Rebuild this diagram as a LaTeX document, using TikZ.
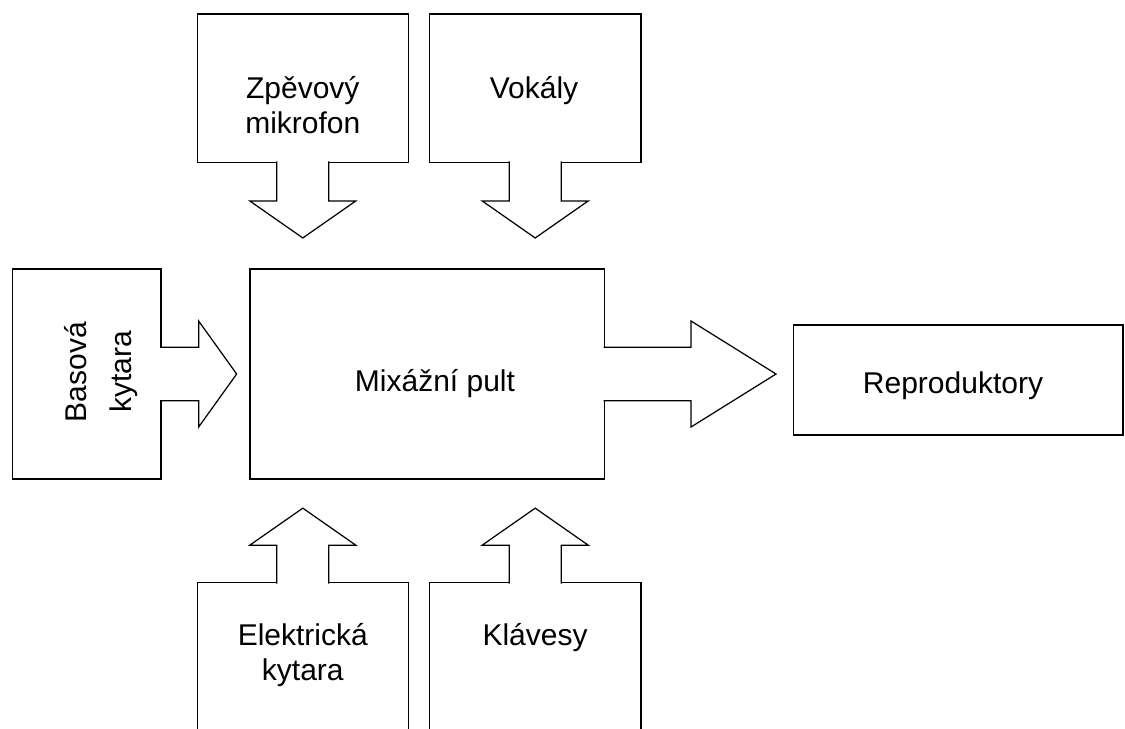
\documentclass[tikz,border=0pt]{standalone}
\usepackage{fontspec}
\setmainfont{Liberation Sans}

\tikzstyle{box} = [draw, rectangle, line width=0.7pt, inner sep=0pt]
\tikzstyle{txt} = [align=center, inner sep=0pt, font=\fontsize{17.07}{19.9}\selectfont]
\tikzstyle{blockarrow} = [draw, fill=white, line width=0.7pt, line join=miter]

\begin{document}
\begin{tikzpicture}[x=0.02cm, y=-0.02cm]
      \clip (0,0) rectangle (1125,728);
      % boxes
      \node[box, minimum width=4.22cm, minimum height=2.966cm] (mic) at (302.8,88.2) {};
      \node[box, minimum width=4.234cm, minimum height=2.966cm] (vok) at (535.2,88.2) {};
      \node[box, minimum width=2.974cm, minimum height=4.2cm] (bas) at (86.7,374) {};
      \node[box, minimum width=7.09cm, minimum height=4.2cm] (mix) at (427.2,374) {};
      \node[box, minimum width=6.594cm, minimum height=2.2cm] (rep) at (958.2,380) {};
      \node[box, minimum width=4.22cm, minimum height=2.966cm] (el) at (302.8,656.9) {};
      \node[box, minimum width=4.234cm, minimum height=2.966cm] (kla) at (535.2,656.9) {};
      % texts (base = last line)
      \node[txt, anchor=base] (mic-t) at (302.8,133) {Zpěvový\\mikrofon};
      \node[txt, anchor=base] (vok-t) at (534,98) {Vokály};
      \node[txt, anchor=base, rotate=90] (bas-t) at (131.7,372) {Basová\\[5.7pt]kytara};
      \node[txt, anchor=base] (mix-t) at (435,391.7) {Mixážní pult};
      \node[txt, anchor=base] (rep-t) at (953,393.3) {Reproduktory};
      \node[txt, anchor=base] (el-t) at (302.8,680) {Elektrická\\kytara};
      \node[txt, anchor=base] (kla-t) at (535,645) {Klávesy};
      % block arrows
      \draw[blockarrow, shift={(mic.south)}] (-26,-1.5) -- (-26,38) -- (-53,38) -- (0,75) -- (53,38) -- (26,38) -- (26,-1.5);
      \draw[blockarrow, shift={(vok.south)}] (-26,-1.5) -- (-26,38) -- (-53,38) -- (0,75) -- (53,38) -- (26,38) -- (26,-1.5);
      \draw[blockarrow, shift={(el.north)}] (-26,1.5) -- (-26,-37) -- (-53,-37) -- (0,-74) -- (53,-37) -- (26,-37) -- (26,1.5);
      \draw[blockarrow, shift={(kla.north)}] (-26,1.5) -- (-26,-37) -- (-53,-37) -- (0,-74) -- (53,-37) -- (26,-37) -- (26,1.5);
      \draw[blockarrow, shift={(bas.east)}] (-1.5,-26.7) -- (37,-26.7) -- (37,-53) -- (75,0) -- (37,53) -- (37,26.7) -- (-1.5,26.7);
      \draw[blockarrow, shift={(mix.east)}] (-1.5,-26.7) -- (86,-26.7) -- (86,-53) -- (171,0) -- (86,53) -- (86,26.7) -- (-1.5,26.7);
\end{tikzpicture}
\end{document}
